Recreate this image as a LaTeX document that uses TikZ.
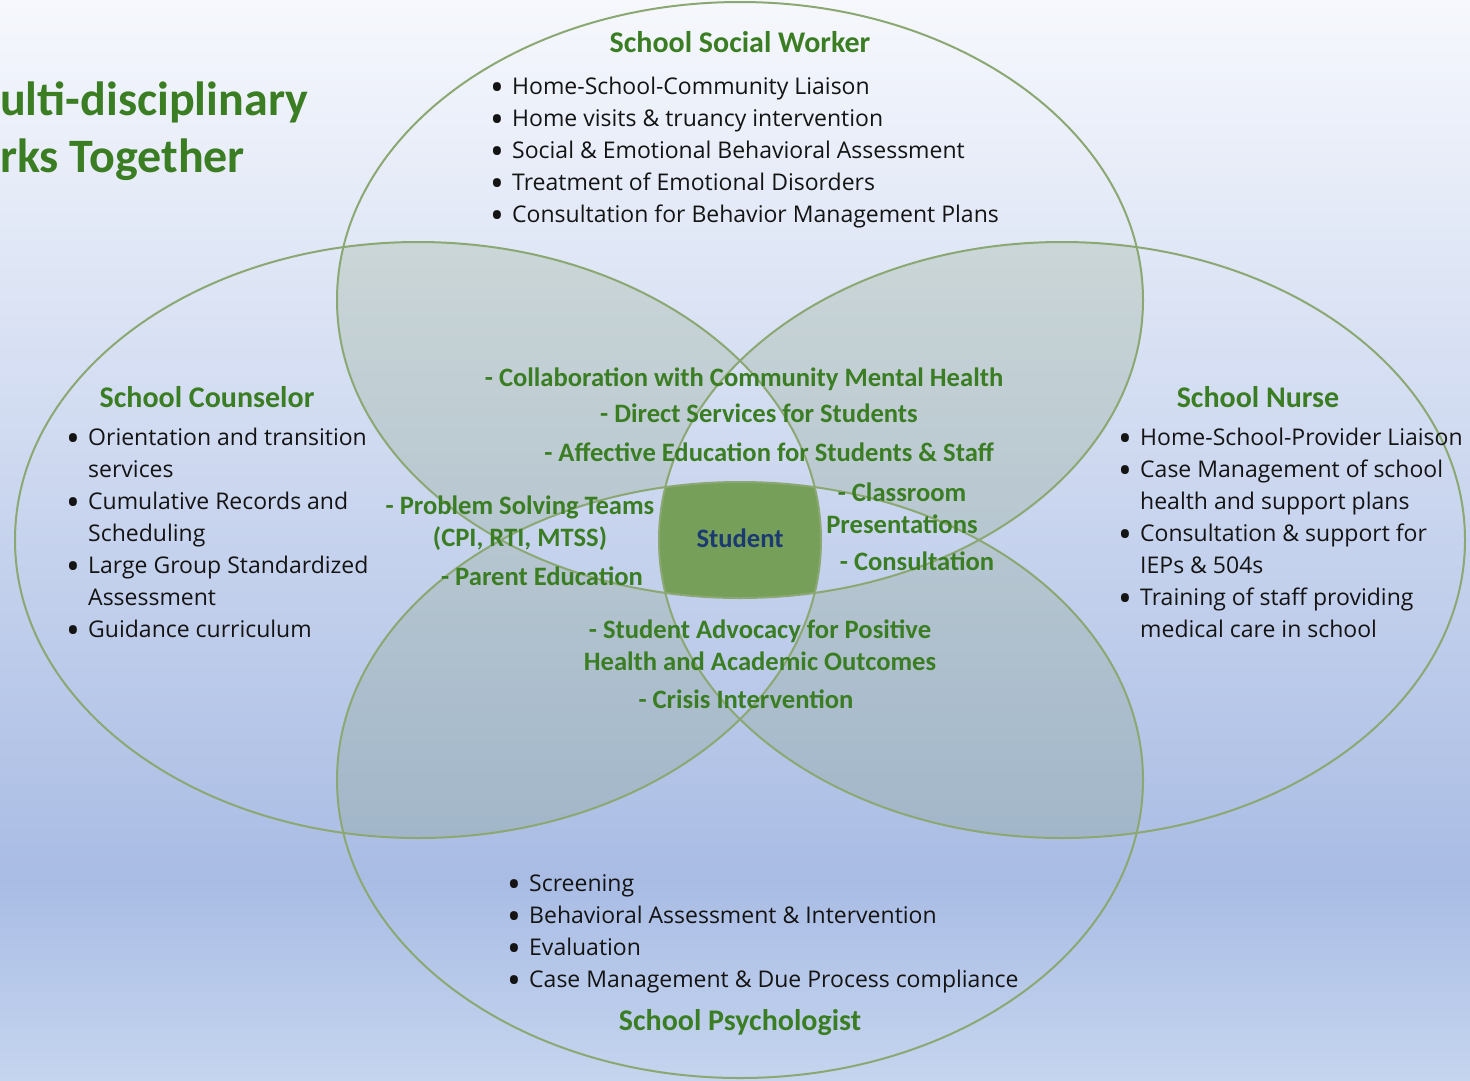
\documentclass[tikz,border=0pt]{standalone}
\usepackage{graphicx}
\usepackage{fontspec}
\setmainfont{Open Sans}
\newfontfamily\labelfont{Carlito}
\definecolor{leaf}{HTML}{3B7D23}
\definecolor{rim}{HTML}{8BA872}
\definecolor{petal}{HTML}{7E9A6A}
\definecolor{core}{HTML}{76A05A}
\definecolor{navy}{HTML}{1C3A72}
\definecolor{skytop}{HTML}{F6F8FD}
\definecolor{skymid}{HTML}{A9BCE4}
\definecolor{skylow}{HTML}{C5D5EF}

\newcommand\itembul{\makebox[22pt][l]{\smash{\raisebox{-6.5pt}{\scalebox{1.6}{\textbullet}}}}}
\newcommand\itemgap{\hspace*{22pt}}

\tikzstyle{oval}=[x radius=403pt, y radius=298pt]
\tikzstyle{circle rim}=[draw=rim, line width=2pt]
\tikzstyle{banner}=[font=\labelfont\bfseries\fontsize{48}{57}\selectfont, text=leaf, inner sep=0, anchor=base west]
\tikzstyle{role}=[font=\labelfont\bfseries\fontsize{30}{36}\selectfont, text=leaf, inner sep=0, anchor=base]
\tikzstyle{duty list}=[font=\fontsize{23}{32}\selectfont, text=black!92, align=left, inner sep=0, anchor=base west]
\tikzstyle{shared}=[font=\labelfont\bfseries\fontsize{26.6}{32}\selectfont, text=leaf, align=center, inner sep=0, anchor=base]

\begin{document}
\begin{tikzpicture}[x=1pt, y=-1pt]
  \useasboundingbox (0,0) rectangle (1470,1080);
  \shade[top color=skytop, bottom color=skymid] (0,0) rectangle (1470,880);
  \shade[top color=skymid, bottom color=skylow] (0,880) rectangle (1470,1080);

  \coordinate (worker) at (740,300);
  \coordinate (psych) at (740,780);
  \coordinate (counsel) at (418,540);
  \coordinate (nurse) at (1062,540);

  % regions shared by two roles are tinted:
  % clip to the union, then the frame flips the parity
  \begin{scope}
    \clip (worker) ellipse [oval] (psych) ellipse [oval]
      (counsel) ellipse [oval] (nurse) ellipse [oval];
    \fill[petal, fill opacity=0.22, even odd rule]
      (0,0) rectangle (1470,1080)
      (worker) ellipse [oval]
      (psych) ellipse [oval]
      (counsel) ellipse [oval]
      (nurse) ellipse [oval];
  \end{scope}

  % the student sits where all four overlap
  \begin{scope}
    \clip (worker) ellipse [oval];
    \clip (psych) ellipse [oval];
    \clip (counsel) ellipse [oval];
    \fill[core] (nurse) ellipse [oval];
  \end{scope}

  \foreach \c in {worker, psych, counsel, nurse}
    \draw[circle rim] (\c) ellipse [oval];

  \node[banner] (banner top) at (0,115) {ulti-disciplinary};
  \node[banner] (banner bottom) at (0,172) {rks Together};

  % multi-line lists are placed by the baseline of their last line
  \node[role] (worker title) at (740,52) {School Social Worker};
  \node[duty list] (worker duties) at (490,222) {\itembul Home-School-Community Liaison\\
    \itembul Home visits \& truancy intervention\\
    \itembul Social \& Emotional Behavioral Assessment\\
    \itembul Treatment of Emotional Disorders\\
    \itembul Consultation for Behavior Management Plans};

  \node[role] (counsel title) at (207,407) {School Counselor};
  \node[duty list] (counsel duties) at (66,637) {\itembul Orientation and transition\\
    \itemgap services\\
    \itembul Cumulative Records and\\
    \itemgap Scheduling\\
    \itembul Large Group Standardized\\
    \itemgap Assessment\\
    \itembul Guidance curriculum};

  \node[role] (nurse title) at (1258,407) {School Nurse};
  \node[duty list] (nurse duties) at (1118,637) {\itembul Home-School-Provider Liaison\\
    \itembul Case Management of school\\
    \itemgap health and support plans\\
    \itembul Consultation \& support for\\
    \itemgap IEPs \& 504s\\
    \itembul Training of staff providing\\
    \itemgap medical care in school};

  \node[duty list] (psych duties) at (507,987) {\itembul Screening\\
    \itembul Behavioral Assessment \& Intervention\\
    \itembul Evaluation\\
    \itembul Case Management \& Due Process compliance};
  \node[role] (psych title) at (740,1030) {School Psychologist};

  % shared services
  \node[shared] (community) at (744,386) {- Collaboration with Community Mental Health};
  \node[shared] (direct) at (759,422) {- Direct Services for Students};
  \node[shared] (affective) at (769,461) {- Affective Education for Students \& Staff};
  \node[shared] (teams) at (520,546) {- Problem Solving Teams\\(CPI, RTI, MTSS)};
  \node[shared] (parent) at (542,585) {- Parent Education};
  \node[shared] (classroom) at (902,533) {- Classroom\\Presentations};
  \node[shared] (consult) at (917,570) {- Consultation};
  \node[shared] (advocacy) at (760,670) {- Student Advocacy for Positive\\Health and Academic Outcomes};
  \node[shared] (crisis) at (746,708) {- Crisis Intervention};

  \node[shared, text=navy] (student) at (740,547) {Student};
\end{tikzpicture}
\end{document}
